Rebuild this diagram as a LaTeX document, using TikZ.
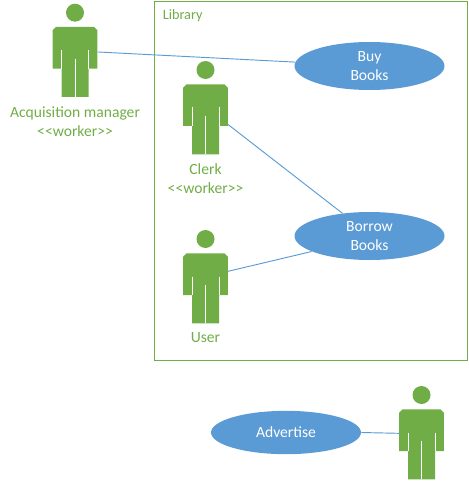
\documentclass[tikz,border=0pt]{standalone}
\usepackage{fontspec}
\setmainfont{Carlito}
\usetikzlibrary{shapes.geometric}
\definecolor{ogreen}{HTML}{70AD47}
\definecolor{oblue}{HTML}{5B9BD5}
\tikzset{
  x=0.75pt,y=-0.75pt,
  usecase/.style={ellipse,fill=oblue,draw=none,minimum width=112.5pt,minimum height=36pt,inner sep=0pt,text=white,align=center,font=\fontsize{11.7}{14.25}\selectfont},
  actorlabel/.style={text=ogreen,align=center,font=\fontsize{11.7}{14.25}\selectfont,inner sep=0pt},
  link/.style={draw=oblue,line width=0.7pt},
  bodybox/.style={inner sep=0pt,minimum width=33.4pt,minimum height=52.5pt,draw=none},
  pics/person/.style={code={
    \fill[ogreen] (0,0) circle[radius=9];
    \fill[ogreen] (-19,14.3) -- (19,14.3) -- (22.3,17.6) -- (22.3,56) -- (13.5,56) -- (13.5,84.3) -- (-13.5,84.3) -- (-13.5,56) -- (-22.3,56) -- (-22.3,17.6) -- cycle;
    \draw[white,line width=0.45pt] (-13.5,37.5) -- (-13.5,56) (13.5,37.5) -- (13.5,56) (0.2,46) -- (0.2,84.3);
    \node[bodybox] (body) at (0,49.3) {};
  }}
}
\begin{document}
\begin{tikzpicture}
\useasboundingbox (0,0) rectangle (468,481);
\node[draw=ogreen,line width=0.75pt,inner sep=0pt,minimum width=234.5pt,minimum height=268.5pt] (library) at (310.75,181) {};
\node[text=ogreen,anchor=west,inner sep=0pt,font=\fontsize{10.7}{12}\selectfont] (libtitle) at (162.5,16) {Library};
\pic (acq) at (75,12.7) {person};
\pic (clerk) at (205.5,70) {person};
\pic (user) at (205.5,239) {person};
\pic (worker) at (421.5,395) {person};
\node[usecase] (buy) at (369.5,66) {Buy\\Books};
\node[usecase] (borrow) at (369.5,236) {Borrow\\Books};
\node[usecase,minimum height=32.5pt] (advertise) at (286,432.5) {Advertise};
\node[actorlabel] (acqlabel) at (75,121.5) {Acquisition manager\\<{}<worker>{}>};
\node[actorlabel] (clerklabel) at (205.5,178.5) {Clerk\\<{}<worker>{}>};
\node[actorlabel] (userlabel) at (205.5,338) {User};
\draw[link] (acqbody.24) -- (buy.177);
\draw[link] (clerkbody.-13) -- (borrow.140.6);
\draw[link] (userbody.37.6) -- (borrow.195);
\draw[link] (advertise.east) -- (workerbody.154);
\end{tikzpicture}
\end{document}
